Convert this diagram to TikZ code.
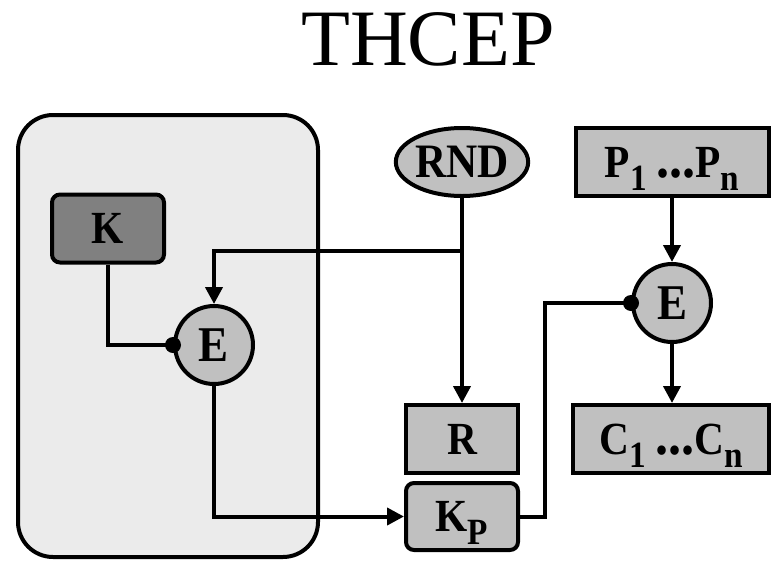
\documentclass[tikz,border=0pt]{standalone}
\usepackage{fontspec}
\setmainfont{Liberation Serif}
\newfontfamily\lblfont[FakeStretch=0.9]{Liberation Serif}
\usetikzlibrary{arrows.meta,shapes.geometric}
\definecolor{boxgray}{HTML}{C0C0C0}
\definecolor{kgray}{HTML}{808080}
\definecolor{bggray}{HTML}{EBEBEB}
\newcommand{\mysub}[1]{\raisebox{-13pt}{\fontsize{37}{37}\selectfont #1}}
\newcommand{\mydots}{{\fontsize{58}{58}\selectfont\,...}}
\begin{document}
\begin{tikzpicture}[x=1pt,y=-1pt,line width=4pt,
  lbl/.style={font=\lblfont\fontsize{46}{50}\selectfont\bfseries, draw, fill=boxgray,
    inner sep=0pt, text height=30pt, text depth=0pt},
  sqbox/.style={lbl, rectangle, minimum width=112pt, minimum height=68pt},
  rbox/.style={sqbox, rounded corners=8pt},
  enc/.style={lbl, circle, minimum size=78pt, font=\lblfont\fontsize{50}{52}\selectfont\bfseries, text height=32pt},
  arr/.style={-{Triangle[length=17pt,width=17pt]}},
  dot/.style={fill=black}]
\useasboundingbox (0,0) rectangle (771,560);
\draw[fill=bggray, rounded corners=35pt] (18,115) rectangle (318,557);
\node[anchor=base] (title) at (428,65) {\fontsize{80}{84}\selectfont THCEP};
\node[rbox, fill=kgray] (K) at (108,228.5) {K};
\node[enc] (E1) at (214,345) {E};
\node[lbl, ellipse, minimum width=125pt, minimum height=68pt, font=\lblfont\fontsize{48}{50}\selectfont\bfseries] (RND) at (462,162) {RND};
\node[sqbox, minimum width=193pt, minimum height=68pt] (P) at (672,162) {P\mysub{1}\mydots P\mysub{n}};
\node[enc] (E2) at (672,303) {E};
\node[sqbox] (R) at (462,439) {R};
\node[rbox, minimum height=67pt] (KP) at (462,516.5) {K\mysub{P}};
\node[sqbox, minimum width=196pt] (C) at (671,439) {C\mysub{1}\mydots C\mysub{n}};
\coordinate (br) at (462,251);
\draw[arr] (RND.south) -- (R.north);
\draw[arr] (br) -| (E1.north);
\draw (K.south) |- (E1.west);
\fill[dot] (E1.west) circle (8pt);
\draw[arr] (E1.south) |- (KP.west);
\draw (KP.east) -- ++(25,0) coordinate (kpturn) |- (E2.west);
\fill[dot] (E2.west) circle (8pt);
\draw[arr] (P.south) -- (E2.north);
\draw[arr] (E2.south) -- (E2.south |- C.north);
\end{tikzpicture}
\end{document}
